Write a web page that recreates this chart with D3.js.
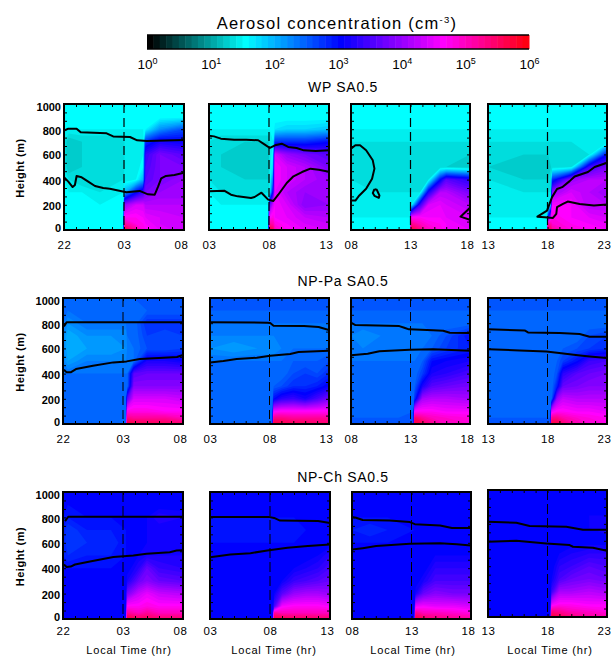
<!DOCTYPE html>
<html>
<head>
<meta charset="utf-8">
<script src="https://cdn.jsdelivr.net/npm/d3@7"></script>
<style>
body { margin: 0; background: #fff; }
text { font-family: "Liberation Sans", sans-serif; fill: #000; }
</style>
</head>
<body>
<svg id="chart" width="613" height="656"></svg>
<script>
// grid values are log10(concentration) x 10, rows run from 1000 m down to 0 m
const gridHeights = [1000, 900, 800, 700, 600, 500, 400, 300, 200, 100, 50, 0];
const timeLabels = [["22", "03", "08"], ["03", "08", "13"], ["08", "13", "18"], ["13", "18", "23"]];
const heightTicks = [0, 200, 400, 600, 800, 1000];
const barDecades = [1, 10, 100, 1000, 10000, 100000, 1000000];
const rowTitles = ["WP", "NP-Pa", "NP-Ch"];

// WP
const wp1Hours = [0, .4, 1.5, 3, 4.95, 5.05, 6, 6.6, 6.8, 8, 10];
const wp1Grid = [
  [15,15,15,15,15,15,15,15,15,15,15],
  [15,15,15,15,15,15,15,15,15,15,15],
  [15,15,15,15,15,15,15,15,16,22,26],
  [14,12,13,13,13,14,14,14,28,32,31],
  [14,12,13,13,13,14,14,15,34,38,36],
  [14,12,13,13,13,14,14,16,35,38,38],
  [15,14,13,13,14,14,15,20,36,38,40],
  [15,15,15,14,15,20,30,34,38,40,40],
  [15,15,15,15,15,40,44,44,42,42,42],
  [15,15,15,15,15,47,47,46,45,44,43],
  [15,15,15,15,15,52,48,47,46,44,43],
  [15,15,15,15,15,58,52,48,47,45,43]];
const wp1Lines = [
  [[0,788],[.36,804],[1.05,804],[1.39,775],[3.55,767],[4.1,743],[5.5,738],[6.1,712],[6.9,706],[10,714]],
  [[0,418],[.36,384],[.72,341],[.91,357],[1.05,429],[1.47,418],[2.02,384],[2.58,349],[3.27,333],[3.82,328],[5.2,299],[6.3,310],[7,283],[7.56,280],[7.84,344],[8.1,410],[8.5,429],[9.2,437],[10,455]]];

const wp2Hours = [0, 1, 3, 4.95, 5.05, 5.35, 5.5, 6.5, 8, 10];
const wp2Grid = [
  [15,15,15,15,15,15,15,15,15,15],
  [15,15,15,15,15,15,15,15,15,15],
  [15,15,15,15,15,15,17,18,18,19],
  [14,13,13,13,14,15,28,28,28,30],
  [14,13,12,12,14,16,44,40,38,36],
  [13,13,12,12,14,18,46,44,42,38],
  [14,13,13,13,14,24,46,44,42,40],
  [15,14,13,14,15,32,45,42,40,40],
  [15,15,15,15,36,44,46,44,39,40],
  [15,15,15,15,46,48,46,45,43,42],
  [15,15,15,15,52,51,48,46,44,43],
  [15,15,15,15,58,56,50,47,45,44]];
const wp2Lines = [
  [[0,749],[.42,743],[.99,725],[2.1,717],[3.1,717],[4.1,712],[4.65,677],[5.07,651],[5.5,672],[6.06,685],[6.6,659],[7.3,651],[7.9,632],[8.9,627],[10,632]],
  [[0,307],[1.27,312],[1.83,280],[2.39,267],[3.5,254],[3.8,262],[4.37,296],[4.93,241],[5.35,230],[5.77,280],[6.48,373],[7.04,426],[7.75,460],[8.45,487],[9.15,479],[10,463]]];

const wp3Hours = [0, 2, 4.95, 5.05, 5.8, 6.5, 7.5, 8, 10];
const wp3Grid = [
  [15,15,15,15,15,15,15,15,15],
  [15,15,15,15,15,15,15,15,15],
  [15,15,15,15,15,15,15,15,15],
  [14,14,14,14,14,14,14,14,14],
  [13,13,13,13,13,13,13,13,13],
  [13,13,13,13,13,13,13,13,12],
  [14,13,13,13,13,14,30,36,33],
  [14,14,14,14,14,32,42,42,38],
  [14,14,14,15,34,44,45,44,42],
  [15,15,15,47,47,46,46,45,44],
  [15,15,15,53,50,48,47,46,44],
  [15,15,15,58,54,50,48,46,45]];
const wp3Lines = [
  [[0,646],[.37,673],[.76,673],[1.27,633],[1.83,553],[1.97,487],[1.77,407],[1.27,327],[.7,274],[.37,234],[0,234]],
  [[1.97,324],[2.17,319],[2.39,274],[2.34,255],[1.97,271],[1.83,293],[1.97,324]],
  [[10,176],[9.2,106],[10,80]]];

const wp4Hours = [0, 3, 4.95, 5.05, 5.3, 5.4, 7, 8.5, 10];
const wp4Grid = [
  [15,15,15,15,15,15,15,15,15],
  [15,15,15,15,15,15,15,15,15],
  [15,15,15,15,15,15,15,15,15],
  [14,14,14,14,14,14,14,14,14],
  [13,13,13,13,13,13,13,14,30],
  [13,12,12,12,13,13,14,34,38],
  [14,13,13,13,13,28,40,42,42],
  [14,14,14,14,14,40,44,42,40],
  [14,14,14,14,20,46,46,42,42],
  [15,15,15,30,45,48,46,45,44],
  [15,15,15,52,51,49,47,46,45],
  [15,15,15,58,55,52,48,47,46]];
const wp4Lines = [
  [[10,202],[8.9,194],[7.7,207],[6.7,226],[6.3,207],[5.8,181],[5.74,128],[5.46,96],[4.76,101],[4.15,106],[4.96,154],[5.38,261],[5.8,325],[6.23,340],[6.86,388],[7.28,425],[8.4,460],[8.96,500],[9.94,532]]];

// NP-Pa
const pa1Hours = [0, .4, 2, 4, 5.25, 5.35, 5.9, 7, 8.5, 10];
const pa1Grid = [
  [25,25,25,25,25,25,25,25,25,25],
  [24,24,24,24,24,24,24,25,25,25],
  [24,22,24,24,24,24,24,28,28,28],
  [23,20,22,22,22,24,24,27,26,27],
  [23,20,21,21,22,23,24,26,26,27],
  [23,21,23,23,23,23,24,32,32,31],
  [24,24,24,24,24,24,36,37,37,37],
  [24,24,24,24,24,24,39,39,39,39],
  [24,24,24,24,24,36,44,44,44,43],
  [24,24,24,24,24,48,48,48,47,47],
  [24,24,24,24,24,53,52,52,52,50],
  [24,24,24,24,24,58,57,56,56,55]];
const pa1Lines = [
  [[.08,775],[.3,807],[3,807],[10,807]],
  [[.08,431],[.3,410],[.64,410],[1.08,436],[2.5,463],[4.2,489],[5.3,497],[6.4,516],[8,524],[9.5,532],[10,548]]];

const pa2Hours = [0, 2, 4, 5.25, 5.35, 6, 7, 8, 9, 10];
const pa2Grid = [
  [25,25,25,25,25,25,25,25,25,25],
  [25,25,25,25,25,25,25,25,25,25],
  [24,24,24,24,24,24,24,24,24,24],
  [23,23,23,23,23,23,23,23,23,23],
  [22,21,22,22,22,23,24,24,24,24],
  [24,24,24,24,24,24,25,25,25,26],
  [24,24,24,24,24,24,26,27,26,28],
  [24,24,24,24,25,26,28,28,29,31],
  [24,24,24,24,30,33,34,32,35,38],
  [24,24,24,24,46,47,47,47,47,47],
  [24,24,24,24,53,53,52,52,52,52],
  [25,25,25,25,58,57,56,56,55,55]];
const pa2Lines = [
  [[0,807],[4.8,804],[5.06,802],[5.34,780],[7.9,778],[9.13,770],[10,746]],
  [[0,489],[1.12,500],[2.25,516],[3.93,526],[5.06,542],[6.74,556],[7.44,571],[10,582]]];

const pa3Hours = [0, 1, 2.5, 4, 5.25, 5.35, 6, 6.8, 8, 10];
const pa3Grid = [
  [25,25,25,25,25,25,25,25,25,25],
  [25,25,25,25,25,25,25,25,25,25],
  [24,24,24,24,24,24,24,24,24,24],
  [23,22,23,23,23,23,23,24,26,30],
  [23,23,23,23,23,23,24,25,27,29],
  [24,24,24,24,24,24,25,30,31,32],
  [24,24,24,24,24,24,27,32,33,35],
  [24,24,24,24,24,25,32,36,37,38],
  [24,24,24,24,24,28,41,42,42,41],
  [24,24,24,24,25,47,47,47,46,46],
  [25,25,25,25,25,55,52,50,49,48],
  [25,25,25,25,25,58,56,53,50,49]];
const pa3Lines = [
  [[0,804],[.37,785],[4.06,777],[4.48,764],[4.87,751],[6.9,745],[7.75,740],[8.3,724],[10,722]],
  [[0,546],[1.4,557],[2.39,578],[4.93,589],[6.9,594],[10,581]]];

const pa4Hours = [0, 2.5, 5.25, 5.35, 5.8, 6.3, 7.5, 8.5, 10];
const pa4Grid = [
  [25,25,25,25,25,25,25,25,25],
  [25,25,25,25,25,25,25,25,25],
  [24,24,24,24,24,24,24,24,24],
  [24,24,24,24,24,24,24,26,27],
  [24,24,24,24,24,25,26,27,28],
  [24,24,24,24,25,27,30,34,35],
  [24,24,24,24,26,33,36,37,38],
  [24,24,24,24,29,37,38,39,39],
  [24,24,24,25,40,43,42,42,42],
  [24,24,24,45,47,47,46,46,45],
  [25,25,25,53,53,51,49,48,47],
  [25,25,25,58,57,55,51,49,48]];
const pa4Lines = [
  [[0,751],[3.08,743],[3.36,727],[6.02,722],[7.7,714],[8.54,692],[10,692]],
  [[0,594],[2.66,584],[4.9,576],[6.16,562],[7.56,546],[8.54,536],[10,523]]];

// NP-Ch
const ch1Hours = [0, .4, 2, 4, 5.25, 5.35, 6.3, 7, 8, 10];
const ch1Grid = [
  [30,30,30,30,30,30,30,30,30,30],
  [30,30,30,30,30,30,30,30,30,30],
  [30,29,30,30,30,30,30,31,33,32],
  [29,27,29,29,30,30,30,31,31,31],
  [29,27,28,28,30,30,30,31,31,31],
  [29,28,29,29,30,30,31,32,32,32],
  [30,30,30,30,30,30,33,37,34,33],
  [30,30,30,30,30,32,37,39,37,36],
  [30,30,30,30,30,38,43,45,43,42],
  [30,30,30,30,30,47,47,48,47,47],
  [30,30,30,30,30,52,50,52,50,50],
  [30,30,30,30,30,58,56,56,55,55]];
const ch1Lines = [
  [[.17,771],[.44,805],[10,805]],
  [[.08,429],[.3,410],[.64,413],[1,429],[2.25,453],[4.2,489],[5.86,500],[6.97,513],[8.9,526],[9.47,539],[10,542]]];

const ch2Hours = [0, 2, 4, 5.25, 5.35, 6, 7, 8, 9, 10];
const ch2Grid = [
  [30,30,30,30,30,30,30,30,30,30],
  [30,30,30,30,30,30,30,30,30,30],
  [30,30,30,30,30,30,30,30,30,30],
  [29,29,29,29,29,29,29,30,30,30],
  [30,30,30,30,30,30,30,30,30,30],
  [30,30,30,30,30,30,30,30,31,33],
  [30,30,30,30,30,30,31,32,33,35],
  [30,30,30,30,30,31,34,35,36,37],
  [30,30,30,30,31,36,40,41,41,40],
  [30,30,30,30,35,46,47,47,47,46],
  [30,30,30,30,52,50,50,50,50,50],
  [30,30,30,30,58,57,56,56,55,55]];
const ch2Lines = [
  [[0,804],[4.9,804],[5.34,796],[5.84,775],[9,772],[10,756]],
  [[0,487],[1.69,508],[3.37,518],[4.78,540],[6.46,561],[8.15,574],[10,587]]];

const ch3Hours = [0, 1.5, 3, 5.25, 5.35, 6, 7, 8.5, 10];
const ch3Grid = [
  [30,30,30,30,30,30,30,30,30],
  [30,30,30,30,30,30,30,30,30],
  [30,30,30,30,30,30,30,30,30],
  [29,28,29,30,30,30,30,30,30],
  [30,30,30,30,30,30,30,30,30],
  [30,30,30,30,30,30,31,31,31],
  [30,30,30,30,30,30,33,33,33],
  [30,30,30,30,30,32,35,35,35],
  [30,30,30,30,32,37,39,38,38],
  [30,30,30,30,45,46,45,45,44],
  [30,30,30,30,53,50,50,49,48],
  [30,30,30,30,58,56,54,53,52]];
const ch3Lines = [
  [[0,803],[.34,797],[.9,779],[3.16,776],[4.86,763],[5.28,747],[7.4,737],[8.4,716],[10,716]],
  [[0,547],[.9,558],[2.03,574],[4.86,592],[7.4,597],[8.8,589],[10,579]]];

const ch4Hours = [0, 3, 5.25, 5.35, 6, 7, 8.5, 10];
const ch4Grid = [
  [30,30,30,30,30,30,30,30],
  [30,30,30,30,30,30,30,30],
  [30,30,30,30,30,30,31,31],
  [30,30,30,30,30,30,31,32],
  [30,30,30,30,30,30,30,30],
  [30,30,30,30,31,32,33,33],
  [30,30,30,30,33,34,36,35],
  [30,30,30,31,35,37,38,37],
  [30,30,30,34,41,41,42,41],
  [30,30,30,45,47,47,46,46],
  [30,30,30,53,52,50,49,48],
  [30,30,30,58,56,54,52,51]];
const ch4Lines = [
  [[0,750],[2.38,742],[3.5,716],[6.58,711],[7.98,687],[10,687]],
  [[0,592],[2.38,600],[4.9,579],[6.86,566],[7.14,553],[8.82,545],[10,521]]];

const panelData = [
  [[wp1Hours, wp1Grid, wp1Lines], [wp2Hours, wp2Grid, wp2Lines], [wp3Hours, wp3Grid, wp3Lines], [wp4Hours, wp4Grid, wp4Lines]],
  [[pa1Hours, pa1Grid, pa1Lines], [pa2Hours, pa2Grid, pa2Lines], [pa3Hours, pa3Grid, pa3Lines], [pa4Hours, pa4Grid, pa4Lines]],
  [[ch1Hours, ch1Grid, ch1Lines], [ch2Hours, ch2Grid, ch2Lines], [ch3Hours, ch3Grid, ch3Lines], [ch4Hours, ch4Grid, ch4Lines]]
];

// frame of every panel: [left, right, top, bottom]
const frames = [
  [[64, 184, 104, 230], [209, 329, 104, 230], [351, 470, 104, 230], [488, 607, 104, 230]],
  [[63, 183, 298, 424], [210, 329, 298, 424], [351, 470, 298, 424], [488, 607, 298, 424]],
  [[63, 183, 492, 619], [210, 330, 492, 619], [352, 471, 492, 619], [488, 607, 490, 617]]
];
const titleY = [92, 286, 482];
const timeTitleShift = [6, 4, 1.5, 2.5];

const svg = d3.select("#chart");
const color = d3.scaleLinear().domain([0, 1.5, 3, 4.6, 6])
  .range(["#000000", "#00ffff", "#0000ff", "#ff00ff", "#ff0000"]);
const levels = d3.range(0, 60);

drawColorBar();
panelData.forEach((row, r) => {
  svg.append("text").attr("x", 343).attr("y", titleY[r]).attr("text-anchor", "middle")
    .attr("font-size", 14).attr("letter-spacing", 0.7)
    .text(rowTitles[r] + " SA0.5");
  row.forEach((d, c) => drawPanel(d, frames[r][c], c, r));
});

function drawColorBar(){
  const x = d3.scaleLog().domain([1, 1e6]).range([147, 529]);
  const step = d3.scaleLinear().domain([0, 6]).range([147, 529]);
  svg.append("text").attr("x", 337).attr("y", 29).attr("text-anchor", "middle")
    .attr("font-size", 16.5).attr("letter-spacing", 1.25)
    .call(t => {
      t.append("tspan").text("Aerosol concentration (cm");
      t.append("tspan").attr("font-size", 9.5).attr("dy", -6).text("-3");
      t.append("tspan").attr("dy", 6).text(")");
    });
  svg.selectAll("rect.step").data(levels).join("rect").attr("class", "step")
    .attr("x", d => step(d / 10)).attr("y", 35)
    .attr("width", d => step((d + 1) / 10) - step(d / 10) + 0.5).attr("height", 14)
    .attr("fill", d => color(d / 10));
  svg.append("path").attr("d", `M147,35H529M147,49H529`).attr("stroke", "#000").attr("stroke-width", 1.5);

  const axis = d3.axisBottom(x).tickValues(barDecades).tickSize(0).tickFormat(() => "10");
  const g = svg.append("g").attr("transform", "translate(0,49)").call(axis);
  g.select(".domain").remove();
  g.selectAll("text").attr("y", 8).attr("dy", "0.9em").attr("font-size", 13.5).attr("font-family", "Liberation Sans")
    .attr("fill", "#000")
    .each(function(d){
      d3.select(this).append("tspan").attr("font-size", 9).attr("dy", -5).text(Math.round(Math.log10(d)));
    });
}

function drawPanel([hours, grid, lines], [left, right, top, bottom], column, rowIndex){
  const x = d3.scaleLinear().domain([0, 10]).range([left, right]);
  const y = d3.scaleLinear().domain([0, 1000]).range([bottom, top]);
  const clipId = `clip-${rowIndex}-${column}`;
  svg.append("clipPath").attr("id", clipId).append("rect")
    .attr("x", left).attr("y", top).attr("width", right - left).attr("height", bottom - top);
  const g = svg.append("g");
  const plot = g.append("g").attr("clip-path", `url(#${clipId})`);

  // grid index -> hours/height, d3.contours puts values at cell centres
  const gridX = d3.scaleLinear().domain(hours.map((h, i) => i + 0.5)).range(hours.map(x));
  const gridY = d3.scaleLinear().domain(gridHeights.map((h, i) => i + 0.5)).range(gridHeights.map(y));
  const path = d3.geoPath(d3.geoTransform({
    point(px, py){ this.stream.point(gridX(px), gridY(py)); }
  }));
  const values = grid.flat();
  const low = d3.min(values);
  const contours = d3.contours().size([hours.length, gridHeights.length])
    .thresholds(levels.filter(l => l >= low))(values);
  plot.selectAll("path.band").data(contours).join("path").attr("class", "band")
    .attr("d", path).attr("fill", d => color(d.value / 10));

  const line = d3.line().x(d => x(d[0])).y(d => y(d[1]));
  plot.selectAll("path.pbl").data(lines).join("path").attr("class", "pbl")
    .attr("d", line).attr("fill", "none").attr("stroke", "#000")
    .attr("stroke-width", 2).attr("stroke-linejoin", "round");
  plot.append("line").attr("x1", x(5)).attr("x2", x(5)).attr("y1", top).attr("y2", bottom)
    .attr("stroke", "#000").attr("stroke-width", rowIndex === 0 ? 1.2 : 1)
    .attr("stroke-dasharray", rowIndex === 2 ? "10,4" : "9,5");

  // minor ticks on all four sides
  const hourTicks = d3.range(0, 11);
  const minorHeights = d3.range(0, 16).map(i => i * 200 / 3);
  const minor = (ax, tx, ty) => g.append("g").attr("transform", `translate(${tx},${ty})`)
    .call(ax.tickFormat("").tickSize(3))
    .call(s => s.select(".domain").remove())
    .call(s => s.selectAll("line").attr("stroke", "#000").attr("stroke-width", 1));
  minor(d3.axisTop(x).tickValues(hourTicks), 0, bottom);
  minor(d3.axisBottom(x).tickValues(hourTicks), 0, top);
  minor(d3.axisRight(y).tickValues(minorHeights), left, 0);
  minor(d3.axisLeft(y).tickValues(minorHeights), right, 0);

  g.append("rect").attr("x", left).attr("y", top).attr("width", right - left).attr("height", bottom - top)
    .attr("fill", "none").attr("stroke", "#000").attr("stroke-width", 2);

  const labels = timeLabels[column];
  const xAxis = d3.axisBottom(x).tickValues([0, 5, 10]).tickSize(0).tickFormat((d, i) => labels[i]);
  const xg = g.append("g").attr("transform", `translate(0,${rowIndex === 2 ? 619 : bottom})`).call(xAxis);
  xg.select(".domain").remove();
  xg.selectAll("text").attr("y", rowIndex === 2 ? 8 : 11).attr("font-size", 11.5).attr("letter-spacing", 0.5)
    .attr("font-family", "Liberation Sans").attr("fill", "#000")
    .attr("dx", d => d === 10 ? -3 : 0);

  if (column === 0) {
    const yAxis = d3.axisLeft(y).tickValues(heightTicks).tickSize(0).tickFormat(d3.format("d"));
    const yg = g.append("g").attr("transform", `translate(${left},0)`).call(yAxis);
    yg.select(".domain").remove();
    yg.selectAll("text").attr("x", -3).attr("font-size", 11).attr("font-weight", "bold")
      .attr("font-family", "Liberation Sans").attr("fill", "#000")
      .attr("dy", d => d === 1000 ? "0.62em" : d === 0 ? "0.1em" : d === 800 ? "0.5em" : "0.4em");
    g.append("text").attr("transform", `translate(24,${(top + bottom) / 2 + 1}) rotate(-90)`)
      .attr("text-anchor", "middle").attr("font-size", 11).attr("font-weight", "bold").attr("letter-spacing", 0.5)
      .text("Height (m)");
  }
  if (rowIndex === 2) {
    g.append("text").attr("x", (left + right) / 2 + timeTitleShift[column]).attr("y", 654).attr("text-anchor", "middle")
      .attr("font-size", 11).attr("letter-spacing", 0.8).text("Local Time (hr)");
  }
}
</script>
</body>
</html>
